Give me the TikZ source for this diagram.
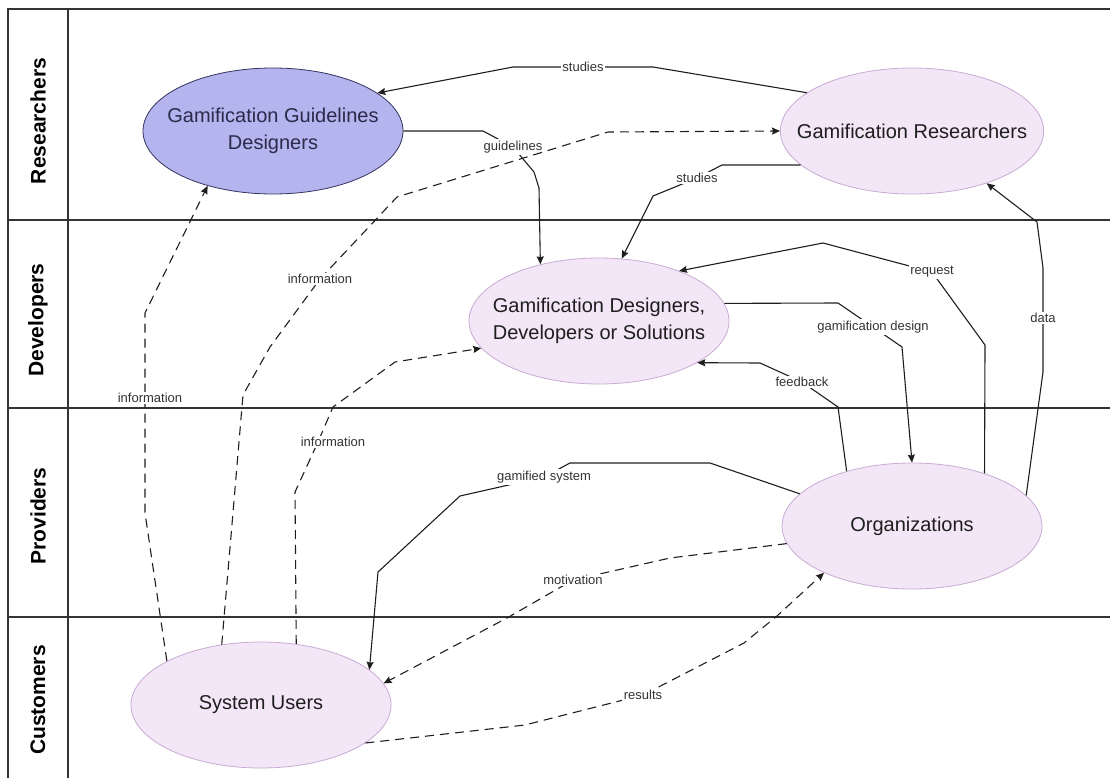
\documentclass[tikz,border=0pt]{standalone}
\usepackage{fontspec}
\setmainfont{Liberation Sans}
\usepackage{tikz}
\usetikzlibrary{positioning,shapes.geometric,arrows.meta,calc}
\definecolor{ink}      {HTML}{1E1E1E}
\definecolor{frameink} {HTML}{333333}
\definecolor{navy}     {HTML}{34345E}
\definecolor{periwinkle}{HTML}{B4B4EE}
\definecolor{lilac}    {HTML}{C9AAD3}
\definecolor{lilacfill}{HTML}{F3E6F6}
\definecolor{softink}  {HTML}{333333}
\tikzset{
  >=Stealth,
  % --- nodes
  actor/.style = {ellipse, draw=lilac, fill=lilacfill, line width=0.8pt, align=center,
                  minimum width=260pt, minimum height=126pt, inner xsep=-22pt, inner ysep=0pt,
                  text=ink, font=\fontsize{20}{27}\selectfont},
  guide/.style = {actor, draw=navy, fill=periwinkle, text=navy!80!black},
  lane/.style  = {rotate=90, font=\fontsize{21}{24}\selectfont\bfseries, text=black},
  lbl/.style   = {font=\fontsize{13}{15}\selectfont, fill=white, inner sep=1.5pt, text=softink},
  % --- edges
  e/.style     = {-{Stealth[length=8pt,width=7pt,inset=1pt]}, line width=1.1pt, draw=ink,
                  line join=round},
  ed/.style    = {e, dash pattern=on 9pt off 6pt},
  lanerule/.style = {line width=1.1pt, draw=frameink},
}

\begin{document}
\begin{tikzpicture}[x=1pt, y=-1pt]
  \useasboundingbox (0,0) rectangle (1110,778);

  % swimlanes
  \draw[lanerule] (1110,9) -- (8,9) -- (8,778);
  \draw[lanerule] (68,9) -- (68,778);
  \foreach \y in {220,408,617}
    \draw[lanerule] (8,\y) -- (1110,\y);
  \node[lane] (lres) at (38,121) {Researchers};
  \node[lane] (ldev) at (38,320) {Developers};
  \node[lane] (lpro) at (38,516) {Providers};
  \node[lane] (lcus) at (38,700) {Customers};

  \node[guide] (ggd) at (273,131) {Gamification Guidelines\\Designers};
  \node[actor] (gr)  at (912,131) {Gamification Researchers};
  \node[actor] (gds) at (599,321) {Gamification Designers,\\Developers or Solutions};
  \node[actor] (org) at (912,526) {Organizations};
  \node[actor] (su)  at (261,705) {System Users};

  \draw[e] (gr.160) -- (653,67) -- node[lbl] {studies} (513,67) -- (ggd.20);
  \draw[e] (ggd.east) -- (483,131) -- (513,147) node[lbl] {guidelines} -- (534,172) -- (539,188) -- (gds.136);
  \draw[e] (gr.197) -- (722,165) -- (697,178) node[lbl] {studies} -- (653,196) -- (gds.70);
  \draw[e] (org.36) -- (985,345) -- (932,272) node[lbl] {request} -- (823,243) -- (gds.32);
  \draw[e] (gds.8) -- (838,303) -- (873,327) node[lbl] {gamification design} -- (902,347) -- (org.north);
  \draw[e] (org.140) -- (838,407) -- (802,382) node[lbl] {feedback} -- (760,363) -- (gds.337);
  \draw[e] (org.15) -- (1043,372) -- (1043,318) node[lbl] {data} -- (1043,268) -- (1037,222) -- (gr.-35);
  \draw[e] (org.164) -- (710,463) -- (570,463) -- (544,477) node[lbl] {gamified system} -- (460,496) -- (378,572) -- (su.18);

  \draw[ed] (org.188) -- (670,558) -- (573,580) node[lbl] {motivation} -- (507,618) -- (su.10);
  \draw[ed] (su.340) -- (525,725) -- (643,695) node[lbl] {results} -- (744,643) -- (777,616) -- (org.208);
  \draw[ed] (su.155) -- (145,513) -- (145,398) node[lbl, xshift=5pt] {information} -- (145,313) -- (ggd.220);
  \draw[ed] (su.123) -- (243,395) -- (270,347) -- (320,279) node[lbl] {information} -- (397,197) -- (608,132) -- (gr.west);
  \draw[ed] (su.60) -- (295,492) -- (318,442) node[lbl, xshift=15pt] {information} -- (333,407) -- (395,362) -- (gds.193);
\end{tikzpicture}
\end{document}
